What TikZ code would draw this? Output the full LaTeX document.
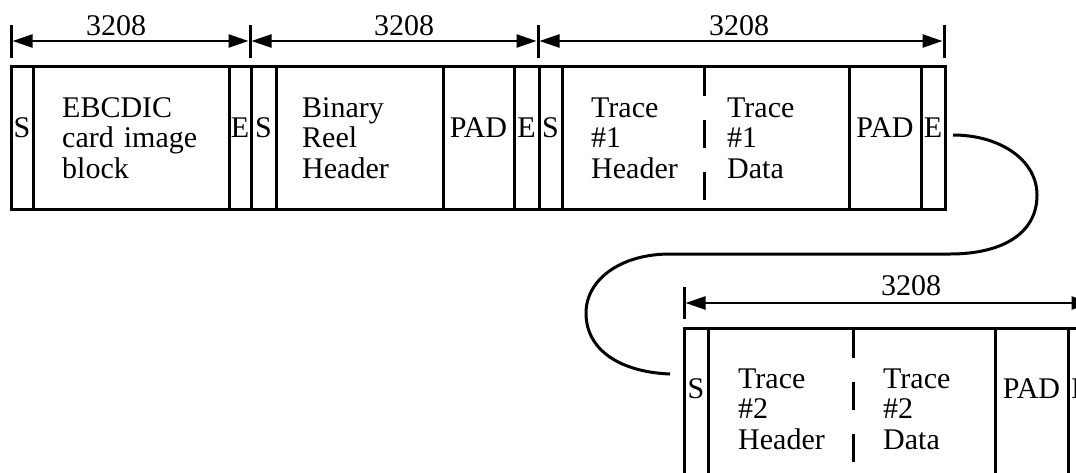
\documentclass[tikz,border=0pt]{standalone}
\usepackage{fontspec}
\setmainfont{Liberation Serif}
\usetikzlibrary{arrows.meta}
\begin{document}
\begin{tikzpicture}[x=1pt,y=-1pt,
  font=\fontsize{30}{30.5}\selectfont,
  cell/.style={draw,line width=3pt,inner sep=0pt,outer sep=0pt,minimum height=143pt,text height=20pt,text depth=20pt},
  cellb/.style={cell,minimum height=147pt,text height=20pt,text depth=27pt},
  blk/.style={anchor=base west,inner sep=0pt,text width=160pt,align=left},
  dim/.style={line width=2.4pt,{Triangle[length=20pt,width=13pt]}-{Triangle[length=20pt,width=13pt]}},
  tick/.style={line width=3pt},
  lab/.style={anchor=base,inner sep=0pt},
  divider/.style={line width=3pt,dash pattern=on 28pt off 24pt,dash phase=-2pt},
  link/.style={line width=3pt}
]
\useasboundingbox (0,0) rectangle (1076,472);
\clip (0,0) rectangle (1076,472);

% ---------- row 1 cells ----------
\node[cell,minimum width=22pt]  (s1)   at (22,137.5)    {S};
\node[cell,minimum width=196pt] (ebc)  at (131,137.5)   {};
\node[cell,minimum width=22pt]  (e1)   at (240,137.5)   {E};
\node[cell,minimum width=25pt]  (s2)   at (263.5,137.5) {S};
\node[cell,minimum width=167pt] (brh)  at (359.5,137.5) {};
\node[cell,minimum width=71pt]  (pad1) at (478.5,137.5) {PAD};
\node[cell,minimum width=25pt]  (e2)   at (526.5,137.5) {E};
\node[cell,minimum width=23pt]  (s3)   at (550.5,137.5) {S};
\node[cell,minimum width=287pt] (t1)   at (705.5,137.5) {};
\node[cell,minimum width=72pt]  (pad2) at (885,137.5)   {PAD};
\node[cell,minimum width=24pt]  (e3)   at (933,137.5)   {E};
\draw[divider] (704,66) -- (704,209);

\node[blk] (ebcT) at (62,117)  {EBCDIC\\card image\\block};
\node[blk] (brhT) at (302,117) {Binary\\Reel\\Header};
\node[blk] (t1hT) at (591,117) {Trace\\\#1\\Header};
\node[blk] (t1dT) at (727,117) {Trace\\\#1\\Data};

% ---------- row 1 dimensions ----------
\coordinate (d0) at (11,41);
\coordinate (d1) at (250,41);
\coordinate (d2) at (538,41);
\coordinate (d3) at (944,41);
\foreach \p in {d0,d1,d2,d3} \draw[tick] ([yshift=16pt]\p) -- ([yshift=-17pt]\p);
\draw[dim] ([xshift=1.5pt]d0) -- ([xshift=-1.5pt]d1);
\draw[dim] ([xshift=1.5pt]d1) -- ([xshift=-1.5pt]d2);
\draw[dim] ([xshift=1.5pt]d2) -- ([xshift=-1.5pt]d3);
\node[lab] (l1) at (116,35) {3208};
\node[lab] (l2) at (404,35) {3208};
\node[lab] (l3) at (739,35) {3208};

% ---------- row 2 cells ----------
\node[cellb,minimum width=24pt]  (s4)   at (696,401.5)    {S};
\node[cellb,minimum width=287pt] (t2)   at (851.5,401.5)  {};
\node[cellb,minimum width=73pt]  (pad3) at (1031.5,401.5) {PAD};
\node[cellb,minimum width=25pt]  (e4)   at (1080.5,401.5) {E};
\draw[divider] (853,328) -- (853,475);

\node[blk] (t2hT) at (738,388) {Trace\\\#2\\Header};
\node[blk] (t2dT) at (883,388) {Trace\\\#2\\Data};

% ---------- row 2 dimension ----------
\coordinate (d4) at (684,303);
\coordinate (d5) at (1093,303);
\foreach \p in {d4,d5} \draw[tick] ([yshift=16pt]\p) -- ([yshift=-16pt]\p);
\draw[dim] ([xshift=1.5pt]d4) -- ([xshift=-1.5pt]d5);
\node[lab] (l4) at (911,295) {3208};

% ---------- link between rows ----------
\coordinate (c0) at (953,135);
\coordinate (c1) at (670,374);
\draw[link] (c0) .. controls (1000,135) and (1037,160) .. (1037,195)
  .. controls (1037,235) and (1000,254) .. (950,254) -- (670,254)
  .. controls (620,254) and (586,280) .. (586,313)
  .. controls (586,350) and (620,372) .. (c1);
\end{tikzpicture}
\end{document}
